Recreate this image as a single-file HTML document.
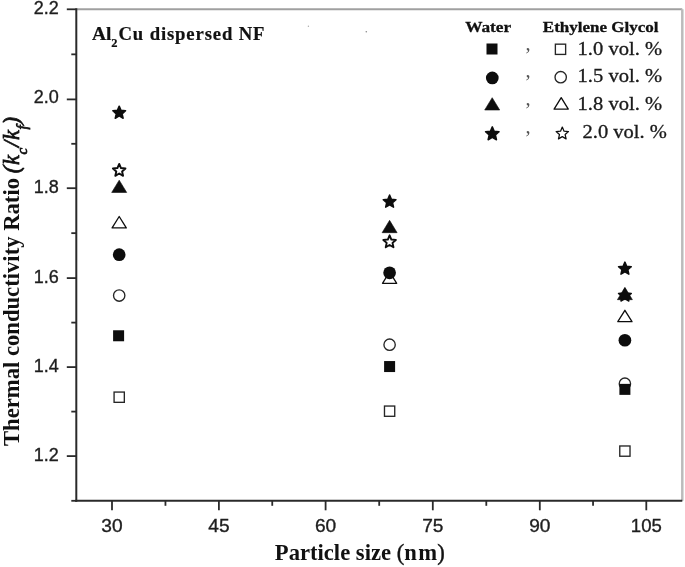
<!DOCTYPE html>
<html><head><meta charset="utf-8"><title>Thermal conductivity ratio vs particle size</title>
<style>
html,body{margin:0;padding:0;background:#fff;width:685px;height:567px;overflow:hidden}
svg{display:block;filter:blur(0.45px)}
.tk{font-family:"Liberation Sans",Arial,sans-serif;font-size:18px;fill:#1e1e1e;stroke:#1e1e1e;stroke-width:0.35px}
.lgh{font-family:"Liberation Serif","Times New Roman",serif;font-weight:bold;font-size:15.5px;fill:#111;stroke:#111;stroke-width:0.3px}
.lg{font-family:"Liberation Serif","Times New Roman",serif;font-size:18px;fill:#1a1a1a;stroke:#1a1a1a;stroke-width:0.3px}
.cm{font-family:"Liberation Serif","Times New Roman",serif;font-size:20.5px;fill:#555}
.an{font-family:"Liberation Serif","Times New Roman",serif;font-weight:bold;font-size:18.7px;fill:#111;stroke:#111;stroke-width:0.2px}
.pn{font-weight:normal;stroke:#111;stroke-width:0.4px}
.it{font-style:italic;font-weight:normal;stroke:#111;stroke-width:0.75px}
.axl{font-family:"Liberation Serif","Times New Roman",serif;font-weight:bold;font-size:22.5px;fill:#111}
</style></head><body>
<svg width="685" height="567" viewBox="0 0 685 567">
<line x1="76.3" y1="9.2" x2="682.3" y2="9.2" stroke="#a0a0a0" stroke-width="2"/>
<line x1="682.3" y1="9.2" x2="682.3" y2="500.8" stroke="#bbbbbb" stroke-width="2.5"/>
<line x1="76.3" y1="8.2" x2="76.3" y2="501.8" stroke="#2a2a2a" stroke-width="2"/>
<line x1="75.3" y1="500.8" x2="682.3" y2="500.8" stroke="#2a2a2a" stroke-width="2"/>
<line x1="66.8" y1="9.3" x2="76.3" y2="9.3" stroke="#2a2a2a" stroke-width="1.8"/>
<text x="58.80" y="14.3" class="tk" text-anchor="end">2.2</text>
<line x1="66.8" y1="99.4" x2="76.3" y2="99.4" stroke="#2a2a2a" stroke-width="1.8"/>
<text x="58.80" y="103.4" class="tk" text-anchor="end">2.0</text>
<line x1="66.8" y1="188.2" x2="76.3" y2="188.2" stroke="#2a2a2a" stroke-width="1.8"/>
<text x="58.80" y="193.3" class="tk" text-anchor="end">1.8</text>
<line x1="66.8" y1="278.1" x2="76.3" y2="278.1" stroke="#2a2a2a" stroke-width="1.8"/>
<text x="58.80" y="283.0" class="tk" text-anchor="end">1.6</text>
<line x1="66.8" y1="367.1" x2="76.3" y2="367.1" stroke="#2a2a2a" stroke-width="1.8"/>
<text x="58.80" y="371.6" class="tk" text-anchor="end">1.4</text>
<line x1="66.8" y1="456.1" x2="76.3" y2="456.1" stroke="#2a2a2a" stroke-width="1.8"/>
<text x="58.80" y="461.2" class="tk" text-anchor="end">1.2</text>
<line x1="71.3" y1="411.6" x2="76.3" y2="411.6" stroke="#2a2a2a" stroke-width="1.8"/>
<line x1="71.3" y1="322.6" x2="76.3" y2="322.6" stroke="#2a2a2a" stroke-width="1.8"/>
<line x1="71.3" y1="233.15" x2="76.3" y2="233.15" stroke="#2a2a2a" stroke-width="1.8"/>
<line x1="71.3" y1="143.8" x2="76.3" y2="143.8" stroke="#2a2a2a" stroke-width="1.8"/>
<line x1="71.3" y1="54.35" x2="76.3" y2="54.35" stroke="#2a2a2a" stroke-width="1.8"/>
<line x1="71.3" y1="500.8" x2="76.3" y2="500.8" stroke="#2a2a2a" stroke-width="1.8"/>
<line x1="112" y1="500.8" x2="112" y2="510.3" stroke="#2a2a2a" stroke-width="1.8"/>
<text x="112.00" y="532.2" class="tk" text-anchor="middle" textLength="21.30" lengthAdjust="spacingAndGlyphs">30</text>
<line x1="218.9" y1="500.8" x2="218.9" y2="510.3" stroke="#2a2a2a" stroke-width="1.8"/>
<text x="218.90" y="532.2" class="tk" text-anchor="middle" textLength="21.30" lengthAdjust="spacingAndGlyphs">45</text>
<line x1="325.6" y1="500.8" x2="325.6" y2="510.3" stroke="#2a2a2a" stroke-width="1.8"/>
<text x="325.60" y="532.2" class="tk" text-anchor="middle" textLength="21.30" lengthAdjust="spacingAndGlyphs">60</text>
<line x1="432.8" y1="500.8" x2="432.8" y2="510.3" stroke="#2a2a2a" stroke-width="1.8"/>
<text x="432.80" y="532.2" class="tk" text-anchor="middle" textLength="21.30" lengthAdjust="spacingAndGlyphs">75</text>
<line x1="539.8" y1="500.8" x2="539.8" y2="510.3" stroke="#2a2a2a" stroke-width="1.8"/>
<text x="539.80" y="532.2" class="tk" text-anchor="middle" textLength="21.30" lengthAdjust="spacingAndGlyphs">90</text>
<line x1="646.3" y1="500.8" x2="646.3" y2="510.3" stroke="#2a2a2a" stroke-width="1.8"/>
<text x="646.30" y="532.2" class="tk" text-anchor="middle" textLength="31.00" lengthAdjust="spacingAndGlyphs">105</text>
<line x1="165.45" y1="500.8" x2="165.45" y2="505.8" stroke="#2a2a2a" stroke-width="1.8"/>
<line x1="272.25" y1="500.8" x2="272.25" y2="505.8" stroke="#2a2a2a" stroke-width="1.8"/>
<line x1="379.20000000000005" y1="500.8" x2="379.20000000000005" y2="505.8" stroke="#2a2a2a" stroke-width="1.8"/>
<line x1="486.29999999999995" y1="500.8" x2="486.29999999999995" y2="505.8" stroke="#2a2a2a" stroke-width="1.8"/>
<line x1="593.05" y1="500.8" x2="593.05" y2="505.8" stroke="#2a2a2a" stroke-width="1.8"/>
<rect x="114.08" y="392.07" width="10.25" height="10.25" fill="none" stroke="#262626" stroke-width="1.35"/>
<circle cx="119.2" cy="295.568" r="5.67" fill="none" stroke="#262626" stroke-width="1.35"/>
<polygon points="119.20,216.50 112.10,227.90 126.30,227.90" fill="none" stroke="#0d0d0d" stroke-width="1.3" stroke-linejoin="round"/>
<polygon points="119.20,163.89 120.98,168.04 125.48,168.45 122.09,171.43 123.08,175.83 119.20,173.53 115.32,175.83 116.31,171.43 112.92,168.45 117.42,168.04" fill="none" stroke="#0d0d0d" stroke-width="1.9" stroke-linejoin="round"/>
<rect x="384.48" y="406.05" width="10.25" height="10.25" fill="none" stroke="#262626" stroke-width="1.35"/>
<circle cx="389.6" cy="344.705" r="5.67" fill="none" stroke="#262626" stroke-width="1.35"/>
<polygon points="389.60,271.89 382.50,283.29 396.70,283.29" fill="none" stroke="#0d0d0d" stroke-width="1.3" stroke-linejoin="round"/>
<polygon points="389.60,235.36 391.38,239.51 395.88,239.92 392.49,242.90 393.48,247.30 389.60,245.00 385.72,247.30 386.71,242.90 383.32,239.92 387.82,239.51" fill="none" stroke="#0d0d0d" stroke-width="1.9" stroke-linejoin="round"/>
<rect x="619.77" y="445.98" width="10.25" height="10.25" fill="none" stroke="#262626" stroke-width="1.35"/>
<circle cx="624.9" cy="383.70191" r="5.67" fill="none" stroke="#262626" stroke-width="1.35"/>
<polygon points="624.90,310.30 617.80,321.70 632.00,321.70" fill="none" stroke="#0d0d0d" stroke-width="1.3" stroke-linejoin="round"/>
<polygon points="624.90,288.87 626.71,293.07 631.27,293.50 627.83,296.52 628.84,300.99 624.90,298.65 620.96,300.99 621.97,296.52 618.53,293.50 623.09,293.07" fill="#0d0d0d" stroke="#0d0d0d" stroke-width="1.5" stroke-linejoin="round"/>
<rect x="113.10" y="330.27" width="11.0" height="11.0" fill="#0d0d0d"/>
<circle cx="119.2" cy="254.65028" r="6.35" fill="#0d0d0d"/>
<polygon points="119.20,180.16 111.70,192.46 126.70,192.46" fill="#0d0d0d" stroke="#0d0d0d" stroke-width="0.6" stroke-linejoin="round"/>
<polygon points="119.20,106.17 121.01,110.37 125.57,110.80 122.13,113.82 123.14,118.29 119.20,115.95 115.26,118.29 116.27,113.82 112.83,110.80 117.39,110.37" fill="#0d0d0d" stroke="#0d0d0d" stroke-width="1.5" stroke-linejoin="round"/>
<rect x="384.10" y="361.05" width="11.0" height="11.0" fill="#0d0d0d"/>
<circle cx="389.6" cy="272.7863" r="6.35" fill="#0d0d0d"/>
<polygon points="389.60,220.36 382.10,232.66 397.10,232.66" fill="#0d0d0d" stroke="#0d0d0d" stroke-width="0.6" stroke-linejoin="round"/>
<polygon points="389.60,195.06 391.41,199.27 395.97,199.69 392.53,202.71 393.54,207.18 389.60,204.84 385.66,207.18 386.67,202.71 383.23,199.69 387.79,199.27" fill="#0d0d0d" stroke="#0d0d0d" stroke-width="1.5" stroke-linejoin="round"/>
<rect x="619.40" y="383.87" width="11.0" height="11.0" fill="#0d0d0d"/>
<circle cx="624.9" cy="340.238" r="6.35" fill="#0d0d0d"/>
<polygon points="624.90,287.37 617.40,299.67 632.40,299.67" fill="#0d0d0d" stroke="#0d0d0d" stroke-width="0.6" stroke-linejoin="round"/>
<polygon points="624.90,262.07 626.71,266.27 631.27,266.70 627.83,269.72 628.84,274.19 624.90,271.85 620.96,274.19 621.97,269.72 618.53,266.70 623.09,266.27" fill="#0d0d0d" stroke="#0d0d0d" stroke-width="1.5" stroke-linejoin="round"/>
<text x="465.20" y="32" class="lgh" textLength="46.00" lengthAdjust="spacingAndGlyphs">Water</text>
<text x="542.80" y="32" class="lgh" textLength="115.80" lengthAdjust="spacingAndGlyphs">Ethylene Glycol</text>
<rect x="486.50" y="43.50" width="11.0" height="11.0" fill="#0d0d0d"/>
<circle cx="492.3" cy="77.9" r="6.35" fill="#0d0d0d"/>
<polygon points="492.20,97.70 484.70,110.00 499.70,110.00" fill="#0d0d0d" stroke="#0d0d0d" stroke-width="0.6" stroke-linejoin="round"/>
<polygon points="492.30,126.90 494.22,131.36 499.05,131.81 495.41,135.01 496.47,139.74 492.30,137.27 488.13,139.74 489.19,135.01 485.55,131.81 490.38,131.36" fill="#0d0d0d" stroke="#0d0d0d" stroke-width="1.5" stroke-linejoin="round"/>
<rect x="555.38" y="44.17" width="10.25" height="10.25" fill="none" stroke="#262626" stroke-width="1.35"/>
<circle cx="560.7" cy="77.2" r="5.67" fill="none" stroke="#262626" stroke-width="1.35"/>
<polygon points="561.20,97.70 554.10,109.10 568.30,109.10" fill="none" stroke="#0d0d0d" stroke-width="1.3" stroke-linejoin="round"/>
<polygon points="562.30,127.10 564.06,131.18 568.48,131.59 565.14,134.52 566.12,138.86 562.30,136.59 558.48,138.86 559.46,134.52 556.12,131.59 560.54,131.18" fill="none" stroke="#0d0d0d" stroke-width="1.25" stroke-linejoin="round"/>
<text x="525.5" y="49.8" class="cm">,</text>
<text x="577.60" y="54.6" class="lg" textLength="84.50" lengthAdjust="spacingAndGlyphs">1.0 vol. %</text>
<text x="525.5" y="77.3" class="cm">,</text>
<text x="577.60" y="82.3" class="lg" textLength="84.50" lengthAdjust="spacingAndGlyphs">1.5 vol. %</text>
<text x="525.5" y="105.4" class="cm">,</text>
<text x="577.60" y="110.2" class="lg" textLength="84.50" lengthAdjust="spacingAndGlyphs">1.8 vol. %</text>
<text x="525.5" y="133.3" class="cm">,</text>
<text x="582.60" y="138.2" class="lg" textLength="84.30" lengthAdjust="spacingAndGlyphs">2.0 vol. %</text>
<circle cx="308.4" cy="26.3" r="0.7" fill="#aaa"/><circle cx="366.3" cy="31.8" r="0.8" fill="#888"/>
<text x="92.00" y="39.6" class="an" textLength="19.40" lengthAdjust="spacingAndGlyphs">Al</text>
<text x="111.2" y="47.3" class="an" style="font-size:12.5px">2</text>
<text x="118.50" y="39.6" class="an" textLength="146.00" lengthAdjust="spacing">Cu dispersed NF</text>
<text x="274.80" y="559.8" class="axl" textLength="170.00" lengthAdjust="spacingAndGlyphs">Particle size <tspan class="pn">(</tspan>n<tspan dx="1.5">m</tspan><tspan class="pn">)</tspan></text>
<text transform="translate(18.5,446) rotate(-90)" x="0" y="0" class="axl" textLength="268" lengthAdjust="spacingAndGlyphs">Thermal conductivity Ratio</text>
<text transform="translate(18.5,173.3) rotate(-90)" x="0" y="0" class="axl" style="letter-spacing:0.7px"><tspan class="it">(k</tspan><tspan class="it" font-size="15" dy="8">c</tspan><tspan class="it" dy="-8">/k</tspan><tspan class="it" font-size="15" dy="8">f</tspan><tspan class="it" dy="-8">)</tspan></text>
</svg>
</body></html>
